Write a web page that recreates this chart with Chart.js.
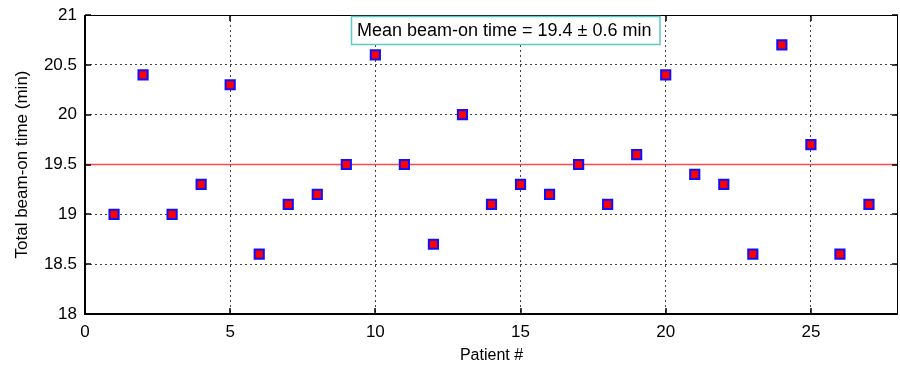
<!DOCTYPE html>
<html>
<head>
<meta charset="utf-8">
<script src="https://cdn.jsdelivr.net/npm/chart.js@4"></script>
<style>
  html, body { margin: 0; padding: 0; background: #fff; }
  #wrap { width: 900px; height: 367px; }
</style>
</head>
<body>
<div id="wrap"><canvas id="beamChart" width="900" height="367"></canvas></div>
<script>
// Data
const patients = [1,2,3,4,5,6,7,8,9,10,11,12,13,14,15,16,17,18,19,20,21,22,23,24,25,26,27]
const beamOnTimes = [19.0,20.4,19.0,19.3,20.3,18.6,19.1,19.2,19.5,20.6,19.5,18.7,20.0,19.1,19.3,19.2,19.5,19.1,19.6,20.4,19.4,19.3,18.6,20.7,19.7,18.6,19.1]
const meanLine = 19.5
const xRange = [0, 28]
const yRange = [18, 21]
const annotationText = 'Mean beam-on time = 19.4 \u00b1 0.6 min'

const FONT = 'Arial, "Liberation Sans", sans-serif'

// Frame, edge ticks and text box drawn on top of the chart
const framePlugin = {
  id: 'frame',
  afterDraw(chart) {
    const { ctx, chartArea: a } = chart
    ctx.save()
    ctx.strokeStyle = '#000'
    ctx.lineWidth = 1
    ctx.strokeRect(a.left + 0.5, a.top + 0.5, a.right - a.left - 1, a.bottom - a.top - 1)
    ctx.lineWidth = 2
    ctx.beginPath()
    ctx.moveTo(a.left, a.top)
    ctx.lineTo(a.left, a.bottom)
    ctx.lineTo(a.right, a.bottom)
    ctx.stroke()

    ctx.lineWidth = 1.5
    const xs = chart.scales.x, ys = chart.scales.y
    xs.ticks.forEach(t => {
      const px = Math.round(xs.getPixelForValue(t.value))
      ctx.beginPath(); ctx.moveTo(px, a.top); ctx.lineTo(px, a.top + 6); ctx.stroke()
      ctx.beginPath(); ctx.moveTo(px, a.bottom); ctx.lineTo(px, a.bottom - 6); ctx.stroke()
    })
    ys.ticks.forEach(t => {
      const py = Math.round(ys.getPixelForValue(t.value))
      ctx.beginPath(); ctx.moveTo(a.right, py); ctx.lineTo(a.right - 6, py); ctx.stroke()
      ctx.beginPath(); ctx.moveTo(a.left, py); ctx.lineTo(a.left + 6, py); ctx.stroke()
    })

    // mean annotation box
    ctx.font = '18px ' + FONT
    const w = ctx.measureText(annotationText).width + 14
    const bx = 351, by = 16, bh = 28
    ctx.fillStyle = '#fff'
    ctx.fillRect(bx, by, w, bh)
    ctx.strokeStyle = '#5cc9c9'
    ctx.lineWidth = 1.5
    ctx.strokeRect(bx + 0.5, by + 0.5, w, bh)
    ctx.fillStyle = '#000'
    ctx.textBaseline = 'middle'
    ctx.fillText(annotationText, bx + 6, by + bh / 2 + 1)
    ctx.restore()
  }
}

const gridStyle = {
  color: '#444',
  lineWidth: 1,
  drawTicks: false
}

new Chart(document.getElementById('beamChart'), {
  type: 'scatter',
  data: {
    datasets: [
      {
        label: 'Mean',
        type: 'line',
        data: xRange.map(x => ({ x: x, y: meanLine })),
        borderColor: '#ff4a4a',
        borderWidth: 1.5,
        pointRadius: 0,
        order: 2
      },
      {
        label: 'Beam-on time',
        data: patients.map((p, i) => ({ x: p, y: beamOnTimes[i] })),
        pointStyle: 'rect',
        pointRadius: 6.5,
        backgroundColor: '#ff0000',
        borderColor: '#1010ff',
        borderWidth: 2,
        order: 1
      }
    ]
  },
  options: {
    responsive: false,
    animation: false,
    layout: { autoPadding: false, padding: { top: 15, right: 2, left: 0, bottom: 0 } },
    plugins: {
      legend: { display: false },
      tooltip: { enabled: false }
    },
    scales: {
      x: {
        type: 'linear',
        min: xRange[0],
        max: xRange[1],
        afterFit(s) {
          s.height = 53
          s.paddingLeft = 0
          s.paddingRight = 0
        },
        border: { display: false, dash: [2, 3] },
        grid: gridStyle,
        ticks: {
          stepSize: 5,
          includeBounds: false,
          color: '#000',
          font: { family: FONT, size: 17 },
          padding: 8,
          callback: v => v
        },
        title: {
          display: true,
          text: 'Patient #',
          color: '#000',
          font: { family: FONT, size: 16 },
          padding: { top: 0, bottom: 2 }
        }
      },
      y: {
        min: yRange[0],
        max: yRange[1],
        afterFit(s) {
          s.width = 85
          s.paddingTop = 0
          s.paddingBottom = 0
        },
        border: { display: false, dash: [2, 3] },
        grid: gridStyle,
        ticks: {
          stepSize: 0.5,
          color: '#000',
          font: { family: FONT, size: 17 },
          padding: 8,
          callback: v => v
        },
        title: {
          display: true,
          text: 'Total beam-on time (min)',
          color: '#000',
          font: { family: FONT, size: 17 },
          padding: { top: 12, bottom: 0 }
        }
      }
    }
  },
  plugins: [framePlugin]
})
</script>
</body>
</html>
